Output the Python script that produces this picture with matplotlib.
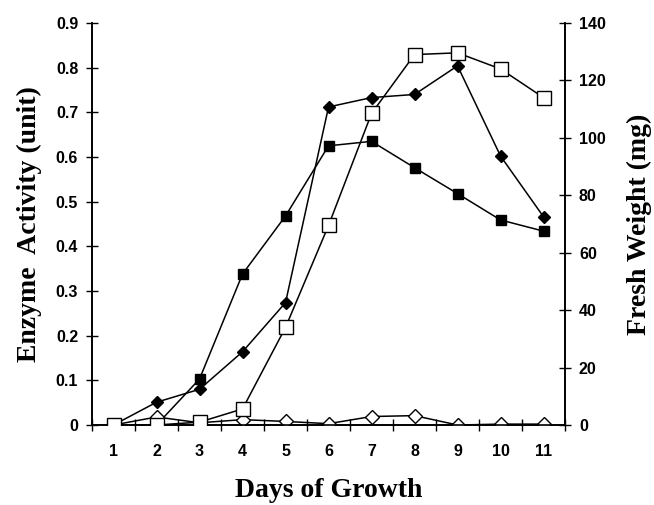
import matplotlib.pyplot as plt
import numpy as np

days = [1, 2, 3, 4, 5, 6, 7, 8, 9, 10, 11]

# enzyme activity (unit), left axis
filled_sq = [0, 0, 0.103, 0.338, 0.468, 0.625, 0.635, 0.576, 0.518, 0.459, 0.434]
filled_dm = [0, 0.051, 0.080, 0.164, 0.274, 0.712, 0.733, 0.740, 0.804, 0.602, 0.466]
open_dm = [0, 0.018, 0.005, 0.012, 0.008, 0.003, 0.019, 0.021, 0.0, 0.002, 0.002]

# fresh weight (mg), right axis
fresh_wt = [0, 0, 1, 5.6, 34, 69.5, 108.5, 129, 129.6, 124, 114]

fig = plt.figure(figsize=(6.54, 5.05), dpi=100)
ax = fig.add_axes([0.1407, 0.1584, 0.7233, 0.7961])
ax2 = ax.twinx()

ax.plot(days, filled_sq, color='black', lw=1.1, marker='s', ms=7, mfc='black', mec='black', zorder=3)
ax.plot(days, filled_dm, color='black', lw=1.1, marker='D', ms=6, mfc='black', mec='black', zorder=3)
ax.plot(days, open_dm, color='black', lw=1.1, marker='D', ms=7, mfc='white', mec='black', zorder=3)
ax2.plot(days, fresh_wt, color='black', lw=1.1, marker='s', ms=9.5, mfc='white', mec='black', zorder=3)

ax.set_xlim(0.5, 11.5)
ax.set_ylim(0, 0.9)
ax2.set_ylim(0, 140)
ax.set_yticks(np.arange(0, 0.91, 0.1))
ax.set_yticklabels(['0', '0.1', '0.2', '0.3', '0.4', '0.5', '0.6', '0.7', '0.8', '0.9'])
ax2.set_yticks(np.arange(0, 141, 20))

ax.set_xticks(np.arange(0.5, 11.6, 1))
ax.set_xticklabels([])
ax.set_xticks(days, minor=True)
ax.set_xticklabels([str(d) for d in days], minor=True)
ax.tick_params(axis='x', which='minor', length=0, pad=14)
ax.tick_params(axis='x', which='major', direction='inout', length=8, width=1)

for a in (ax, ax2):
    a.spines['top'].set_visible(False)
    for s in a.spines.values():
        s.set_linewidth(1.2)
    a.tick_params(axis='y', direction='inout', length=8, width=1, pad=6)

for lab in ax.get_yticklabels() + ax2.get_yticklabels() + ax.get_xticklabels(minor=True):
    lab.set_fontfamily('Liberation Sans')
    lab.set_fontweight('bold')
    lab.set_fontsize(11.5)

lab_font = dict(family='Liberation Serif', weight='bold', size=20)
ax.set_xlabel('Days of Growth', labelpad=13, **lab_font)
ax.set_ylabel('Enzyme  Activity (unit)', labelpad=10, **lab_font)
ax2.set_ylabel('Fresh Weight (mg)', labelpad=15, rotation=90, **lab_font)

fig.savefig('out.png', dpi=100)
